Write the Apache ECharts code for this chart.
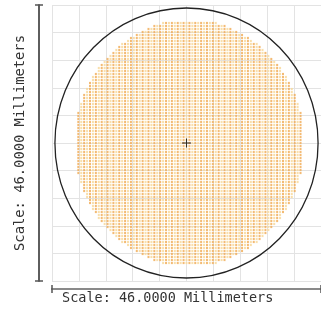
<!DOCTYPE html>
<html>
<head>
<meta charset="utf-8">
<script src="https://cdn.jsdelivr.net/npm/echarts@6/dist/echarts.min.js"></script>
<style>
html, body { margin: 0; padding: 0; background: #fff; }
#chart { width: 321px; height: 309px; }
</style>
</head>
<body>
<div id="chart"></div>
<script>
// footprint scale (mm)
const scaleMin = -23;
const scaleMax = 23;
const gridStep = 4.6;
const scaleLabel = 'Scale: 46.0000 Millimeters';
// clear aperture of the surface (mm)
const apertureRadius = [22.5];
// ray grid pitch (mm) and dots per half row, center row outwards
const rayPitch = 0.5;
const rayCenterX = 0.5;
const rowHalfWidths = [38, 38, 38, 38, 38, 38, 38, 38, 38, 38, 38, 37, 37, 37, 36, 36, 36, 35, 35, 34,
  34, 33, 33, 32, 31, 31, 30, 29, 28, 27, 26, 25, 24, 23, 21, 20, 18, 16, 14, 12, 9];
const chiefRay = [[0, 0]];

const rays = [];
rowHalfWidths.forEach((hw, i) => {
  const rows = i === 0 ? [0] : [i, -i];
  rows.forEach(r => {
    for (let c = -hw; c <= hw; c++) {
      rays.push([rayCenterX + c * rayPitch, r * rayPitch, c]);
    }
  });
});

const chart = echarts.init(document.getElementById('chart'));

const barAxis = (inside, extra) => Object.assign({
  type: 'value',
  min: scaleMin,
  max: scaleMax,
  interval: scaleMax - scaleMin,
  axisLabel: { show: false },
  splitLine: { show: false },
  axisTick: { show: true, inside: inside, length: 4, lineStyle: { color: '#555', width: 1.5 } },
}, extra);

chart.setOption({
  animation: false,
  grid: { left: 52, top: 5, width: 272, height: 276 },
  xAxis: [
    {
      type: 'value', min: scaleMin, max: scaleMax, interval: gridStep,
      axisLine: { show: false }, axisTick: { show: false }, axisLabel: { show: false },
      splitLine: { show: true, lineStyle: { color: '#e3e3e3', width: 1 } },
    },
    barAxis(false, {
      position: 'bottom', offset: 8,
      axisLine: { show: true, onZero: false, lineStyle: { color: '#8a8a8a', width: 2 } },
      name: scaleLabel, nameLocation: 'start', nameGap: -10,
      nameTextStyle: {
        fontFamily: 'DejaVu Sans Mono', fontSize: 13.5, color: '#333',
        align: 'left', verticalAlign: 'top', padding: [2, 0, 0, 0],
      },
    }),
    barAxis(true, {
      position: 'bottom', offset: 8,
      axisLine: { show: true, onZero: false, lineStyle: { color: '#8a8a8a', width: 2 } },
    }),
  ],
  yAxis: [
    {
      type: 'value', min: scaleMin, max: scaleMax, interval: gridStep,
      axisLine: { show: false }, axisTick: { show: false }, axisLabel: { show: false },
      splitLine: { show: true, lineStyle: { color: '#e3e3e3', width: 1 } },
    },
    barAxis(false, {
      position: 'left', offset: 13,
      axisLine: { show: true, onZero: false, lineStyle: { color: '#555', width: 1.5 } },
      name: scaleLabel, nameLocation: 'middle', nameGap: 12, nameRotate: 90,
      nameTextStyle: { fontFamily: 'DejaVu Sans Mono', fontSize: 13.8, color: '#333' },
    }),
    barAxis(true, {
      position: 'left', offset: 13,
      axisLine: { show: true, onZero: false, lineStyle: { color: '#555', width: 1.5 } },
    }),
  ],
  series: [
    {
      type: 'scatter',
      data: rays,
      symbol: 'rect',
      symbolSize: [2, 2.2],
      silent: true,
      itemStyle: {
        color: p => (p.value[2] % 2 === 0 ? '#f0aa52' : '#f8d796'),
      },
    },
    {
      type: 'custom',
      data: apertureRadius,
      silent: true,
      renderItem: (params, api) => {
        const c = api.coord([0, 0]);
        const s = api.size([api.value(0), api.value(0)]);
        return {
          type: 'ellipse',
          shape: { cx: c[0], cy: c[1], rx: s[0], ry: s[1] },
          style: { fill: null, stroke: '#222', lineWidth: 1.3 },
        };
      },
    },
    {
      type: 'scatter',
      data: chiefRay,
      symbol: 'path://M4,0h1v9h-1zM0,4h9v1h-9z',
      symbolSize: 9,
      silent: true,
      itemStyle: { color: '#000' },
      z: 5,
    },
  ],
});
</script>
</body>
</html>
